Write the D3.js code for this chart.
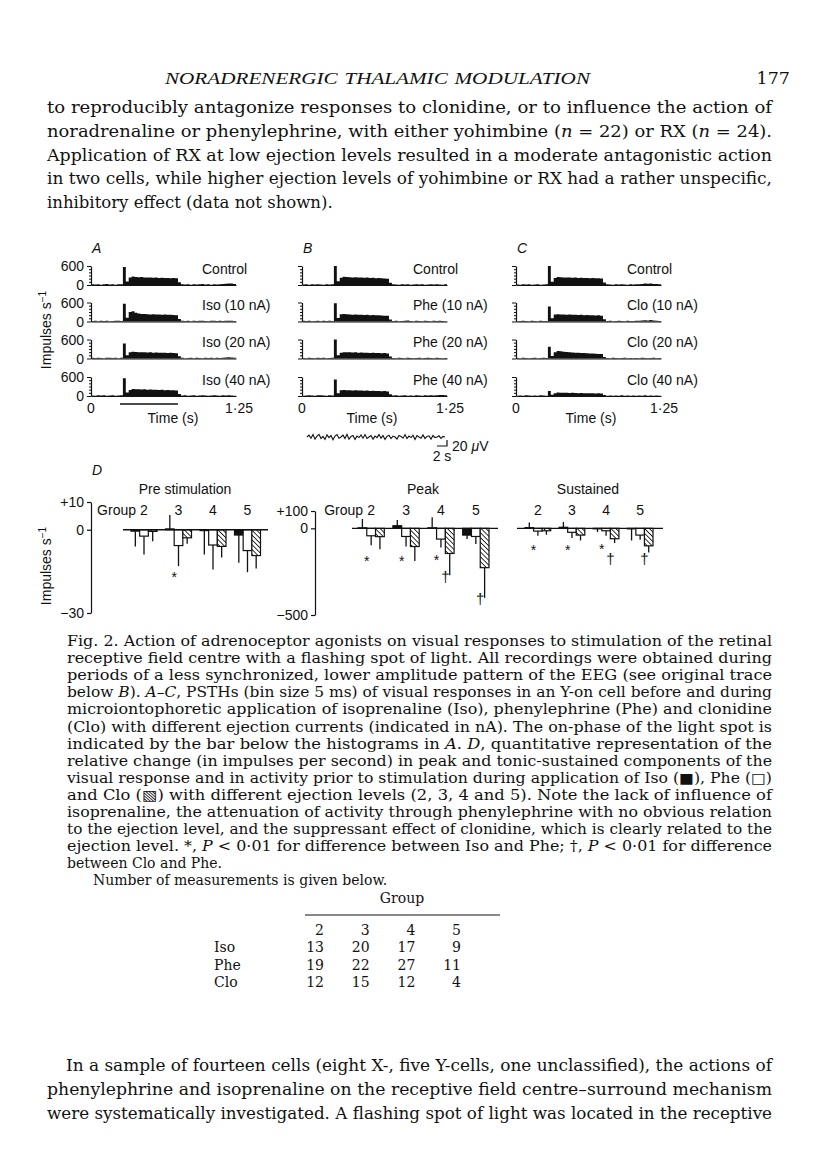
<!DOCTYPE html>
<html><head><meta charset="utf-8">
<script src="https://cdn.jsdelivr.net/npm/d3@7"></script>
<style>body{margin:0;background:#fff}svg{display:block}</style>
</head><body>
<svg id="page" width="816" height="1169"></svg>
<script>
// ---------------- TEXT ----------------
const headerTitle = "NORADRENERGIC THALAMIC MODULATION";
const pageNumber = "177";
const bodyLines = [
"to reproducibly antagonize responses to clonidine, or to influence the action of",
"noradrenaline or phenylephrine, with either yohimbine (_n_ = 22) or RX (_n_ = 24).",
"Application of RX at low ejection levels resulted in a moderate antagonistic action",
"in two cells, while higher ejection levels of yohimbine or RX had a rather unspecific,",
"inhibitory effect (data not shown)."
];
const captionLines = [
"Fig. 2. Action of adrenoceptor agonists on visual responses to stimulation of the retinal",
"receptive field centre with a flashing spot of light. All recordings were obtained during",
"periods of a less synchronized, lower amplitude pattern of the EEG (see original trace",
"below _B_). _A–C_, PSTHs (bin size 5 ms) of visual responses in an Y-on cell before and during",
"microiontophoretic application of isoprenaline (Iso), phenylephrine (Phe) and clonidine",
"(Clo) with different ejection currents (indicated in nA). The on-phase of the light spot is",
"indicated by the bar below the histograms in _A_. _D_, quantitative representation of the",
"relative change (in impulses per second) in peak and tonic-sustained components of the",
"visual response and in activity prior to stimulation during application of Iso (■), Phe (□)",
"and Clo (▧) with different ejection levels (2, 3, 4 and 5). Note the lack of influence of",
"isoprenaline, the attenuation of activity through phenylephrine with no obvious relation",
"to the ejection level, and the suppressant effect of clonidine, which is clearly related to the",
"ejection level. *, _P_ < 0·01 for difference between Iso and Phe; †, _P_ < 0·01 for difference",
"between Clo and Phe."
];
const noteLine = "Number of measurements is given below.";
const finalLines = [
"In a sample of fourteen cells (eight X-, five Y-cells, one unclassified), the actions of",
"phenylephrine and isoprenaline on the receptive field centre–surround mechanism",
"were systematically investigated. A flashing spot of light was located in the receptive"
];

// ---------------- TABLE ----------------
const tableGroups = ["2","3","4","5"];
const tableRows = ["Iso","Phe","Clo"];
const isoCounts = [13,20,17,9];
const pheCounts = [19,22,27,11];
const cloCounts = [12,15,12,4];

// ---------------- PSTH DATA (impulses/s, 25 ms bins, 0–1.25 s) ----------------
const binSize = 0.025;
const aControl = [20,15,25,10,20,30,15,20,10,25, 20,570,110,240,265,255,245,250,240,235,240,230,235,225,230,220,225,215,220,210, 90,25,15,20,10,25,15,20,30,15, 20,10,25,15,20,30,40,50,45,30];
const aIso10  = [15,20,10,25,15,20,10,15,25,20, 15,560,120,300,320,280,250,240,235,230,225,230,220,225,215,220,210,215,205,200, 80,20,15,25,10,20,15,25,20,15, 10,20,25,15,20,15,20,25,20,15];
const aIso20  = [20,15,25,15,10,20,25,15,20,10, 20,470,100,200,210,205,200,195,200,190,195,185,190,180,185,180,175,180,170,165, 70,20,10,15,25,10,20,15,10,20, 15,25,10,20,15,20,30,40,35,25];
const aIso40  = [15,10,20,15,25,10,15,20,10,15, 20,560,110,190,220,215,210,205,210,200,205,195,200,190,195,185,190,180,185,175, 60,15,20,10,15,20,10,15,20,15, 10,15,20,15,10,20,15,20,15,10];
const bControl = [15,20,10,25,15,20,15,10,20,15, 20,600,120,230,260,250,245,240,245,235,240,230,235,225,230,215,220,210,205,200, 70,20,15,10,20,15,25,10,15,20, 15,20,10,15,20,15,20,15,10,20];
const bPhe10  = [20,15,20,10,15,25,10,20,15,20, 15,580,110,230,240,230,220,215,220,210,215,205,210,200,205,195,200,190,185,180, 60,15,20,10,15,20,30,15,10,20, 15,10,20,15,10,20,15,25,15,10];
const bPhe20  = [15,10,20,15,10,20,15,25,10,15, 20,600,100,180,200,195,200,190,195,185,190,180,185,175,180,170,175,165,170,160, 60,15,10,20,15,10,20,15,10,15, 20,10,15,20,15,10,20,15,10,15];
const bPhe40  = [10,15,20,15,10,20,25,15,10,20, 15,520,90,180,190,185,180,175,180,170,175,165,170,160,165,155,160,150,155,145, 55,15,20,10,15,20,10,15,10,20, 15,10,20,15,20,15,25,35,30,20];
const cControl = [15,10,20,15,25,10,15,20,10,15, 20,600,100,220,250,245,240,235,240,230,235,225,230,220,225,215,220,210,215,205, 80,20,15,10,20,15,20,15,10,20, 15,20,25,30,45,40,50,35,30,20];
const cClo10  = [10,15,20,15,10,20,15,10,20,15, 15,470,100,220,230,225,220,215,220,210,215,205,210,200,205,195,200,190,195,185, 70,15,20,10,15,20,15,10,20,15, 15,20,25,35,40,30,45,30,25,15];
const cClo20  = [15,10,20,15,10,15,20,10,15,20, 15,370,80,200,240,230,215,205,200,190,185,180,175,170,165,160,155,150,145,140, 50,15,10,20,15,10,15,20,10,15, 10,15,10,20,15,10,15,20,10,15];
const cClo40  = [10,15,10,20,15,10,15,10,20,15, 10,160,40,90,110,100,105,100,95,100,95,90,95,90,85,90,85,80,85,80, 30,10,15,10,15,10,20,10,15,10, 15,10,15,10,20,10,15,10,15,10];
const rowLabelsA = ["Control","Iso (10 nA)","Iso (20 nA)","Iso (40 nA)"];
const rowLabelsB = ["Control","Phe (10 nA)","Phe (20 nA)","Phe (40 nA)"];
const rowLabelsC = ["Control","Clo (10 nA)","Clo (20 nA)","Clo (40 nA)"];
const stimOn = [0.25, 0.75];
const pstTicks = ["0","1·25"];

// EEG trace (µV), sampled every 0.4 s
const eegDt = 0.4;
const eegValues = [0,6,-4,8,-7,3,9,-5,2,-8,7,-2,5,-9,3,8,-4,0,6,-5,9,-7,2,5,-8,3,-2,7,-4,8,-5,0,5,-7,3,-2,8,-4,5,-8,2,6,-5,3,0,-7,5,2,-4,8,-5,3,-2,6,-8,5,0,-4,7,-5,2,4,-7,5,-2,0,4,-5,2,0];

// ---------------- BAR DATA (D) ----------------
const groups = ["2","3","4","5"];
const series = ["Iso","Phe","Clo"];
const preIso = [-0.5, 0.3, -0.3, -1.9],  preIsoSem = [5.5, 5.0, 8.6, 10.0];
const prePhe = [-2.3, -5.7, -5.5, -7.5], prePheSem = [6.6, 7.4, 8.8, 7.8];
const preClo = [-0.6, -2.9, -6.0, -9.3], preCloSem = [3.5, 2.1, 4.0, 4.7];
const peakIso = [3, 15, 3, -39],         peakIsoSem = [51, 33, 61, 23];
const peakPhe = [-43, -47, -62, -47],    peakPheSem = [54, 58, 48, 44];
const peakClo = [-48, -105, -145, -227], peakCloSem = [72, 83, 126, 174];
const susIso = [4, 6, -2, -3],           susIsoSem = [29, 31, 19, 67];
const susPhe = [-16, -23, -14, -39],     susPheSem = [27, 33, 29, 27];
const susClo = [-14, -39, -60, -101],    susCloSem = [23, 31, 25, 39];
const preMarks = [["3","*",-16]];
const peakMarks = [["2","*",-170],["3","*",-170],["4","*",-165],["4","†",-280],["5","†",-410]];
const susMarks = [["2","*",-105],["3","*",-105],["4","*",-100],["4","†",-175],["5","†",-175]];
const preTicks = [10,0,-30], peakTicks = [100,0,-500];

// ================= DRAW =================
const svg = d3.select("#page");
const serif = "'DejaVu Serif',serif";
const sans = "'Liberation Sans',Arial,Helvetica,sans-serif";
const ink = "#111";
svg.append("rect").attr("width",816).attr("height",1169).attr("fill","#fff");

const defs = svg.append("defs");
defs.append("pattern").attr("id","hatch").attr("patternUnits","userSpaceOnUse")
  .attr("width",3.4).attr("height",3.4).attr("patternTransform","rotate(-45)")
  .call(p=>{p.append("rect").attr("width",3.4).attr("height",3.4).attr("fill","#fff");
            p.append("line").attr("x1",0).attr("y1",0).attr("x2",0).attr("y2",3.4).attr("stroke",ink).attr("stroke-width",1.7);});

// one line of text, one <text> per word; "_" toggles italics.
// Justified lines are fitted to the width by scaling words and spaces uniformly.
function textLine(g, str, x, y, o){
  const words=[]; let cur=[], it=false, buf="";
  const pushRun=()=>{ if(buf){cur.push({t:buf,it}); buf="";} };
  for(const ch of str){
    if(ch==="_"){ pushRun(); it=!it; }
    else if(ch===" "){ pushRun(); if(cur.length){words.push(cur); cur=[];} }
    else buf+=ch;
  }
  pushRun(); if(cur.length) words.push(cur);
  const font = o.font||serif;
  const els = words.map(w=>{
    const t=g.append("text").attr("y",y).attr("font-family",font).attr("font-size",o.size).attr("fill",ink);
    if(o.italic) t.attr("font-style","italic");
    w.forEach(r=>{const ts=t.append("tspan").text(r.t); if(r.it) ts.attr("font-style","italic");});
    return t;
  });
  const widths = els.map(t=>t.node().getComputedTextLength());
  const sp = o.size*(o.space||0.32);
  const natural = d3.sum(widths) + sp*(els.length-1);
  const r = o.width ? o.width/natural : 1;
  let cx = x;
  if(o.anchor==="middle") cx = x - natural/2;
  if(o.anchor==="end") cx = x - natural;
  els.forEach((t,i)=>{
    t.attr("x",cx);
    if(r!==1) t.attr("textLength",widths[i]*r).attr("lengthAdjust","spacingAndGlyphs");
    cx += (widths[i]+sp)*r;
  });
}

const txt = svg.append("g");
textLine(txt, headerTitle, 165, 84, {size:16.5, italic:true, width:425, font:"'Liberation Serif',serif"});
textLine(txt, pageNumber, 790, 84, {size:17.5, anchor:"end"});
bodyLines.forEach((l,i)=>textLine(txt, l, 47, 113+i*23.8, {size:16.5, width: i<bodyLines.length-1 ? 725 : null}));
captionLines.forEach((l,i)=>textLine(txt, l, 67, 646+i*17.1, {size:14, width: i<captionLines.length-1 ? 705 : null}));
textLine(txt, noteLine, 93, 885, {size:14});
finalLines.forEach((l,i)=>textLine(txt, l, i===0?66:47, 1071+i*24, {size:16.5, width: i===0 ? 706 : 725}));

// table
const tab = svg.append("g").attr("font-family",serif).attr("font-size",14).attr("fill",ink);
const colX = d3.scalePoint().domain(tableGroups).range([324,461]);
tab.append("text").attr("x",402).attr("y",903).attr("text-anchor","middle").text("Group");
tab.append("line").attr("x1",305).attr("x2",500).attr("y1",915).attr("y2",915).attr("stroke",ink).attr("stroke-width",1);
tableGroups.forEach(gk=>tab.append("text").attr("x",colX(gk)).attr("y",935).attr("text-anchor","end").text(gk));
[isoCounts,pheCounts,cloCounts].forEach((row,ri)=>{
  const y = 952+ri*17.5;
  tab.append("text").attr("x",214).attr("y",y).text(tableRows[ri]);
  row.forEach((v,ci)=>tab.append("text").attr("x",colX(tableGroups[ci])).attr("y",y).attr("text-anchor","end").text(v));
});

// ---------------- PSTH panels ----------------
const fig = svg.append("g").attr("font-family",sans).attr("fill",ink);
const label = (str,x,y,anchor,extra)=>textLine(fig, str, x, y, Object.assign({size:14, font:sans, space:0.28, anchor}, extra||{}));
const rowBase = [285, 321.5, 358.5, 396];
const psthPanels = [
  {letter:"A", x0:91,  traces:[aControl,aIso10,aIso20,aIso40], labels:rowLabelsA, yLabels:true, stim:true, timeX:82},
  {letter:"B", x0:302, traces:[bControl,bPhe10,bPhe20,bPhe40], labels:rowLabelsB, yLabels:false, stim:false, timeX:70},
  {letter:"C", x0:516, traces:[cControl,cClo10,cClo20,cClo40], labels:rowLabelsC, yLabels:false, stim:false, timeX:75}
];
psthPanels.forEach(p=>{
  const x = d3.scaleLinear().domain([0,1.25]).range([p.x0, p.x0+145]);
  label(p.letter, p.x0+1, 253, "start", {italic:true});
  p.traces.forEach((vals,i)=>{
    const base = rowBase[i];
    const y = d3.scaleLinear().domain([0,600]).range([base, base-19]);
    const pts = vals.map((v,j)=>[j*binSize, v]); pts.push([1.25, vals[vals.length-1]]);
    fig.append("path").datum(pts)
      .attr("d", d3.area().x(d=>x(d[0])).y0(base).y1(d=>y(d[1])).curve(d3.curveStepAfter))
      .attr("fill",ink);
    const xa = fig.append("g").attr("transform",`translate(0,${base})`)
      .call(d3.axisBottom(x).tickValues([]).tickSizeOuter(0));
    xa.select(".domain").attr("stroke",ink).attr("stroke-width",1.2);
    const ya = fig.append("g").attr("transform",`translate(${p.x0},0)`)
      .call(d3.axisLeft(y).tickValues([0,100,200,300,400,500,600]).tickSize(2).tickSizeOuter(0).tickFormat(""));
    ya.select(".domain").attr("stroke",ink).attr("stroke-width",1.2);
    ya.selectAll(".tick line").attr("stroke",ink).attr("stroke-width",1)
      .attr("x2",d=> (d===0||d===600) ? -4 : -2);
    if(p.yLabels){
      [600,0].forEach(v=>label(String(v), p.x0-7, y(v)+5, "end"));
    }
    label(p.labels[i], p.x0+111, base-11.5, "start");
  });
  label(pstTicks[0], x(0), 413, "middle");
  label(pstTicks[1], x(1.25)+3, 413, "middle");
  label("Time (s)", p.x0+p.timeX, 423, "middle");
  if(p.stim){
    fig.append("line").attr("x1",x(stimOn[0])).attr("x2",x(stimOn[1])).attr("y1",404).attr("y2",404)
      .attr("stroke",ink).attr("stroke-width",1.5);
  }
});

function yLabel(cx, cy){
  const t = fig.append("text").attr("transform",`translate(${cx},${cy}) rotate(-90)`)
    .attr("text-anchor","middle").attr("font-size",14);
  t.append("tspan").text("Impulses s");
  t.append("tspan").attr("dy",-5).attr("font-size",10).text("−1");
}
yLabel(51, 330);
yLabel(51, 566);

// EEG trace under B
const xE = d3.scaleLinear().domain([0, 28]).range([307, 447]);
const yE = d3.scaleLinear().domain([0, 20]).range([437, 431]);
fig.append("path").datum(eegValues)
  .attr("d", d3.line().x((d,i)=>xE(i*eegDt)).y(d=>yE(d)))
  .attr("fill","none").attr("stroke",ink).attr("stroke-width",1.1);
fig.append("path").attr("d",`M${xE(26)},446H${xE(28)}V${446-(yE(0)-yE(20))}`)
  .attr("fill","none").attr("stroke",ink).attr("stroke-width",1.2);
label("20 _μ_V", 452, 451, "start");
label("2 s", xE(27), 461, "middle");

// ---------------- D bar charts ----------------
label("D", 92, 475, "start", {italic:true});
const barPanels = [
  {title:"Pre stimulation", titleX:185, axisX:91, yDom:[-30,10], yRng:[613,502], ticks:preTicks, zero:[123,268], band:[131,260.5],
   vals:[preIso,prePhe,preClo], sems:[preIsoSem,prePheSem,preCloSem], marks:preMarks, groupWord:true},
  {title:"Peak", titleX:423, axisX:315, yDom:[-500,100], yRng:[615,511], ticks:peakTicks, zero:[352,498], band:[358,489],
   vals:[peakIso,peakPhe,peakClo], sems:[peakIsoSem,peakPheSem,peakCloSem], marks:peakMarks, groupWord:true},
  {title:"Sustained", titleX:588, axisX:null, yDom:[-500,100], yRng:[615,511], ticks:null, zero:[517,663], band:[525,653],
   vals:[susIso,susPhe,susClo], sems:[susIsoSem,susPheSem,susCloSem], marks:susMarks, groupWord:false}
];
const fills = {Iso:ink, Phe:"#fff", Clo:"url(#hatch)"};
barPanels.forEach(bp=>{
  const y = d3.scaleLinear().domain(bp.yDom).range(bp.yRng);
  const xg = d3.scaleBand().domain(groups).range(bp.band).paddingInner(0.246).paddingOuter(0);
  const xs = d3.scaleBand().domain(series).range([0, xg.bandwidth()]);
  const g = fig.append("g");
  textLine(g, bp.title, bp.titleX, 494, {size:14, font:sans, space:0.28, anchor:"middle"});
  groups.forEach(gk=>g.append("text").attr("x",xg(gk)+xg.bandwidth()/2).attr("y",515).attr("text-anchor","middle").attr("font-size",14).text(gk));
  if(bp.groupWord) g.append("text").attr("x",xg("2")+xg.bandwidth()/2-8).attr("y",515).attr("text-anchor","end").attr("font-size",14).text("Group");
  if(bp.axisX!==null){
    const ax = g.append("g").attr("transform",`translate(${bp.axisX},0)`)
      .call(d3.axisLeft(y).tickValues(bp.ticks).tickSize(4).tickSizeOuter(0)
        .tickFormat(d=> d>0 ? "+"+d : (d<0 ? "−"+Math.abs(d) : "0")));
    ax.select(".domain").attr("stroke",ink).attr("stroke-width",1.2);
    ax.selectAll(".tick line").attr("stroke",ink).attr("stroke-width",1.2);
    ax.selectAll(".tick text").attr("font-size",14).attr("font-family",sans).attr("fill",ink).attr("x",-7);
  }
  series.forEach((s,si)=>{
    groups.forEach((gk,gi)=>{
      const v = bp.vals[si][gi], sem = bp.sems[si][gi];
      const bx = xg(gk)+xs(s), bw = xs.bandwidth();
      const y0 = y(0), yv = y(v);
      const cx = bx + bw/2;
      const tip = v >= 0 ? v + sem : v - sem;
      g.append("line").attr("x1",cx).attr("x2",cx).attr("y1",yv).attr("y2",y(tip))
        .attr("stroke",ink).attr("stroke-width",1.3);
      g.append("rect").attr("x",bx).attr("width",bw)
        .attr("y",Math.min(y0,yv)).attr("height",Math.max(0.5,Math.abs(yv-y0)))
        .attr("fill",fills[s]).attr("stroke",ink).attr("stroke-width",1.2);
    });
  });
  g.append("line").attr("x1",bp.zero[0]).attr("x2",bp.zero[1]).attr("y1",y(0)).attr("y2",y(0))
    .attr("stroke",ink).attr("stroke-width",1.3);
  bp.marks.forEach(([gk,sym,v])=>{
    const mx = sym==="*" ? xg(gk)+xs("Phe") : xg(gk)+xs("Clo");
    g.append("text").attr("x",mx).attr("y",y(v)+(sym==="*"?8:5)).attr("text-anchor","middle")
      .attr("font-size",sym==="*"?14:15).text(sym);
  });
});
</script>
</body></html>
